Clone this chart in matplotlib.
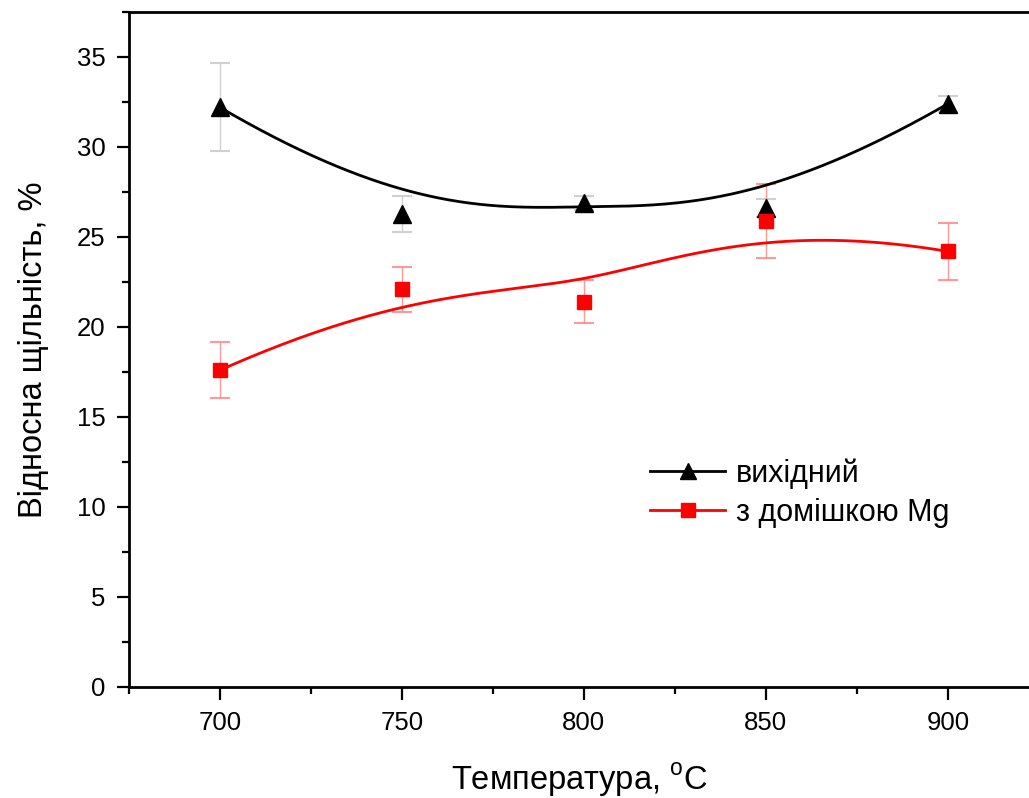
import numpy as np
import matplotlib
matplotlib.use("Agg")
import matplotlib.pyplot as plt
from matplotlib.ticker import MultipleLocator

plt.rcParams["font.family"] = ["Liberation Sans", "DejaVu Sans"]
plt.rcParams["mathtext.fontset"] = "custom"
plt.rcParams["mathtext.rm"] = "Liberation Sans"

temps = [700, 750, 800, 850, 900]
base = [32.2, 26.3, 26.9, 26.6, 32.4]
base_err = [2.45, 1.0, 0.4, 0.5, 0.45]
mg = [17.6, 22.1, 21.4, 25.9, 24.2]
mg_err = [1.55, 1.25, 1.2, 2.05, 1.6]

label_base = "вихідний"
label_mg = "з домішкою Mg"


def bspline(xs, ys, n=300):
    # clamped cubic B-spline, data points used as control points (like Origin)
    P = np.column_stack([xs, ys]).astype(float)
    k = 3
    m = len(P)
    inner = np.linspace(0, 1, m - k + 1)[1:-1]
    knots = np.concatenate([[0] * (k + 1), inner, [1] * (k + 1)])
    t = np.linspace(0, 1, n)
    t[-1] -= 1e-9

    def basis(i, d, tt):
        if d == 0:
            return ((knots[i] <= tt) & (tt < knots[i + 1])).astype(float)
        out = np.zeros_like(tt)
        den1 = knots[i + d] - knots[i]
        den2 = knots[i + d + 1] - knots[i + 1]
        if den1 > 0:
            out += (tt - knots[i]) / den1 * basis(i, d - 1, tt)
        if den2 > 0:
            out += (knots[i + d + 1] - tt) / den2 * basis(i + 1, d - 1, tt)
        return out

    B = np.column_stack([basis(i, k, t) for i in range(m)])
    C = B @ P
    return C[:, 0], C[:, 1]


fig = plt.figure(figsize=(10.29, 7.98), dpi=100)
ax = fig.add_axes([129 / 1029, 111 / 798, 900 / 1029, 675 / 798])

# black series
bx, by = bspline(temps, base)
ax.plot(bx, by, color="black", lw=2.0, zorder=3)
ax.errorbar(temps, base, yerr=base_err, fmt="none", ecolor="#d0d0d0",
            elinewidth=1.0, capsize=7, capthick=1.5, zorder=2)
ax.plot(temps, base, ls="none", marker="^", ms=13, color="black", zorder=4)

# red series
rx, ry = bspline(temps, mg)
ax.plot(rx, ry, color="red", lw=2.0, zorder=3)
ax.errorbar(temps, mg, yerr=mg_err, fmt="none", ecolor="#ff8080",
            elinewidth=1.0, capsize=7, capthick=1.5, alpha=0.8, zorder=2)
ax.plot(temps, mg, ls="none", marker="s", ms=10, color="red", zorder=4)

# legend handles
ax.plot([], [], color="black", lw=2.0, marker="^", ms=12, label=label_base)
ax.plot([], [], color="red", lw=2.0, marker="s", ms=10, label=label_mg)
ax.legend(loc="center left", bbox_to_anchor=(0.579, 0.287), frameon=False,
          fontsize=22, handlelength=2.45, handletextpad=0.35,
          labelspacing=0.3, borderpad=0, borderaxespad=0)

ax.set_xlim(675, 922.3)
ax.set_ylim(0, 37.5)
ax.xaxis.set_major_locator(MultipleLocator(50))
ax.xaxis.set_minor_locator(MultipleLocator(25))
ax.yaxis.set_major_locator(MultipleLocator(5))
ax.yaxis.set_minor_locator(MultipleLocator(2.5))

ax.spines["right"].set_visible(False)
for s in ("left", "bottom", "top"):
    ax.spines[s].set_linewidth(2.0)
ax.tick_params(which="major", direction="out", length=9, width=1.6,
               labelsize=18.5, pad=8)
ax.tick_params(which="minor", direction="out", length=5, width=1.6)
ax.tick_params(top=False, right=False, which="both")

ax.set_xlabel("Температура, $^{\\mathrm{o}}$C", fontsize=23.5, labelpad=19)
ax.set_ylabel("Відносна щільність, %", fontsize=23.5, labelpad=20)

fig.savefig("out.png", dpi=100)
